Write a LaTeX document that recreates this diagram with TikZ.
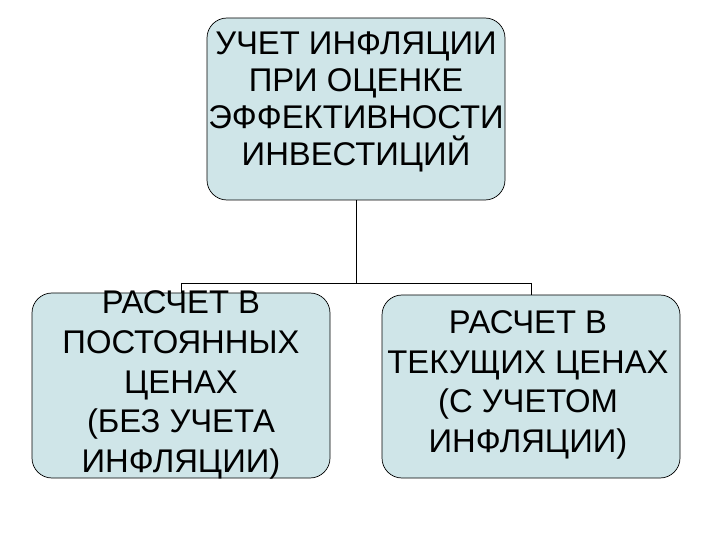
\documentclass[tikz,border=0pt]{standalone}
\usepackage{fontspec}
\setmainfont{Liberation Sans}
\definecolor{boxfill}{HTML}{CFE5E8}
\begin{document}
\begin{tikzpicture}[x=0.03cm,y=-0.03cm,
  box/.style={draw=black,fill=boxfill,rounded corners=0.6cm,line width=0.6pt},
  txt/.style={align=center,font=\fontsize{28}{34}\selectfont,inner sep=0pt},
  conn/.style={line width=0.8pt}]
\useasboundingbox (0,0) rectangle (720,540);
\node[box,minimum width=298*0.03cm,minimum height=182*0.03cm] (top) at (356,109) {};
\node[box,minimum width=298*0.03cm,minimum height=185*0.03cm] (left) at (181,385.5) {};
\node[box,minimum width=298*0.03cm,minimum height=183*0.03cm] (right) at (531,386.5) {};
\node[txt,font=\fontsize{28}{31.5}\selectfont] (tt) at (356,102) {УЧЕТ ИНФЛЯЦИИ\\ПРИ ОЦЕНКЕ\\ЭФФЕКТИВНОСТИ\\ИНВЕСТИЦИЙ};
\node[txt] (lt) at (181,385) {РАСЧЕТ В\\ПОСТОЯННЫХ\\ЦЕНАХ\\(БЕЗ УЧЕТА\\ИНФЛЯЦИИ)};
\node[txt] (rt) at (528,385) {РАСЧЕТ В\\ТЕКУЩИХ ЦЕНАХ\\(С УЧЕТОМ\\ИНФЛЯЦИИ)};
\coordinate (j) at (356,283);
\coordinate (jl) at (181,283);
\coordinate (jr) at (531,283);
\draw[conn] (top.south) -- (j);
\draw[conn] (jl) -- (jr);
\draw[conn] (jl) -- (left.north);
\draw[conn] (jr) -- (right.north);
\end{tikzpicture}
\end{document}
